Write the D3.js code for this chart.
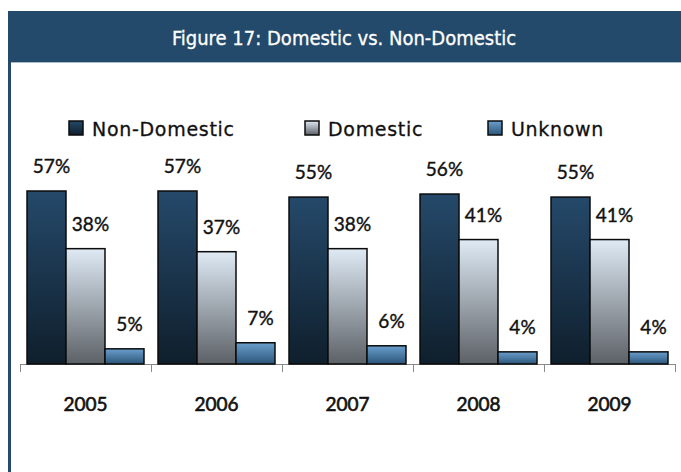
<!DOCTYPE html>
<html>
<head>
<meta charset="utf-8">
<script src="https://cdn.jsdelivr.net/npm/d3@7"></script>
<style>
  body { margin: 0; background: #fff; }
  svg { display: block; }
</style>
</head>
<body>
<script>
const W = 681, H = 472

// chart data
const years = ['2005', '2006', '2007', '2008', '2009']
const seriesNames = ['Non-Domestic', 'Domestic', 'Unknown']
const nonDomestic = [57, 57, 55, 56, 55]
const domestic = [38, 37, 38, 41, 41]
const unknown = [5, 7, 6, 4, 4]
const title = 'Figure 17: Domestic vs. Non-Domestic'

const seriesValues = [nonDomestic, domestic, unknown]
const gradients = [
  ['#25496a', '#0f1f2c'],
  ['#dfeaf5', '#5c6166'],
  ['#6a9fcd', '#2b5578']
]

const svg = d3.select('body').append('svg')
    .attr('width', W)
    .attr('height', H)

const defs = svg.append('defs')
gradients.forEach((g, i) => {
  const lg = defs.append('linearGradient')
      .attr('id', 'grad' + i)
      .attr('x1', 0).attr('y1', 0).attr('x2', 0).attr('y2', 1)
  lg.append('stop').attr('offset', '0%').attr('stop-color', g[0])
  lg.append('stop').attr('offset', '100%').attr('stop-color', g[1])
})

// frame: header band + left rule
svg.append('rect')
    .attr('x', 8).attr('y', 11)
    .attr('width', W - 8).attr('height', 51)
    .attr('fill', '#234a6a')
svg.append('rect')
    .attr('x', 8).attr('y', 11)
    .attr('width', 3).attr('height', H - 11)
    .attr('fill', '#234a6a')
svg.append('line')
    .attr('x1', 11).attr('x2', W)
    .attr('y1', 62.5).attr('y2', 62.5)
    .attr('stroke', '#a9bacb')
    .attr('stroke-width', 1)

svg.append('text')
    .attr('x', 344)
    .attr('y', 45)
    .attr('text-anchor', 'middle')
    .style('font-family', '"DejaVu Sans Condensed", "Liberation Sans Narrow", "DejaVu Sans", sans-serif')
    .style('font-stretch', 'condensed')
    .style('font-size', '20px')
    .style('fill', '#ffffff')
    .style('stroke', '#ffffff')
    .style('stroke-width', 0.3)
    .text(title)

// scales
const x0 = d3.scaleBand()
    .domain(years)
    .range([20, 675])
    .paddingInner(0.107)
    .paddingOuter(0.0535)

const x1 = d3.scaleBand()
    .domain(seriesNames)
    .range([0, x0.bandwidth()])

const y = d3.scaleLinear()
    .domain([0, 57])
    .range([364, 191])

// axis
const axisScale = d3.scalePoint().domain(d3.range(6)).range([20, 675])
svg.append('g')
    .attr('transform', 'translate(0,364)')
    .call(d3.axisBottom(axisScale).tickSize(8).tickFormat(''))
    .call(g => g.select('.domain').attr('stroke', '#8a8a8a'))
    .call(g => g.selectAll('.tick line').attr('stroke', '#8a8a8a'))

// bars
const groups = svg.selectAll('.year')
    .data(years)
    .enter()
    .append('g')
    .attr('class', 'year')
    .attr('transform', d => 'translate(' + x0(d) + ',0)')

groups.selectAll('rect')
    .data((d, i) => seriesNames.map((s, j) => ({ s: s, j: j, v: seriesValues[j][i] })))
    .enter()
    .append('rect')
    .attr('x', d => x1(d.s))
    .attr('y', d => y(d.v))
    .attr('width', x1.bandwidth())
    .attr('height', d => y(0) - y(d.v))
    .attr('fill', d => 'url(#grad' + d.j + ')')
    .attr('stroke', '#0b0b0b')
    .attr('stroke-width', 1.5)

groups.selectAll('text')
    .data((d, i) => seriesNames.map((s, j) => ({ s: s, j: j, v: seriesValues[j][i] })))
    .enter()
    .append('text')
    .attr('x', d => x1(d.s) + x1.bandwidth() / 2 + 5)
    .attr('y', d => y(d.v) - 18)
    .attr('text-anchor', 'middle')
    .style('font-family', 'Lato, sans-serif')
    .style('font-size', '19px')
    .style('fill', '#111')
    .style('stroke', '#111')
    .style('stroke-width', 0.4)
    .text(d => d.v + '%')

// category labels
svg.selectAll('.cat')
    .data(years)
    .enter()
    .append('text')
    .attr('class', 'cat')
    .attr('x', d => x0(d) + x0.bandwidth() / 2)
    .attr('y', 411)
    .attr('text-anchor', 'middle')
    .style('font-family', 'Lato, sans-serif')
    .style('font-size', '19px')
    .style('fill', '#111')
    .style('stroke', '#111')
    .style('stroke-width', 0.6)
    .text(d => d)

// legend
const legendX = [69, 305, 488]
const legend = svg.selectAll('.legend')
    .data(seriesNames)
    .enter()
    .append('g')
    .attr('class', 'legend')
    .attr('transform', (d, i) => 'translate(' + legendX[i] + ',121)')

legend.append('rect')
    .attr('width', 14)
    .attr('height', 14)
    .attr('fill', (d, i) => 'url(#grad' + i + ')')
    .attr('stroke', '#0b0b0b')
    .attr('stroke-width', 1.5)

legend.append('text')
    .attr('x', 23)
    .attr('y', 15)
    .style('font-family', '"DejaVu Sans", sans-serif')
    .style('font-size', '19px')
    .style('letter-spacing', '0.7px')
    .style('fill', '#111')
    .style('stroke', '#111')
    .style('stroke-width', 0.3)
    .text(d => d)
</script>
</body>
</html>
